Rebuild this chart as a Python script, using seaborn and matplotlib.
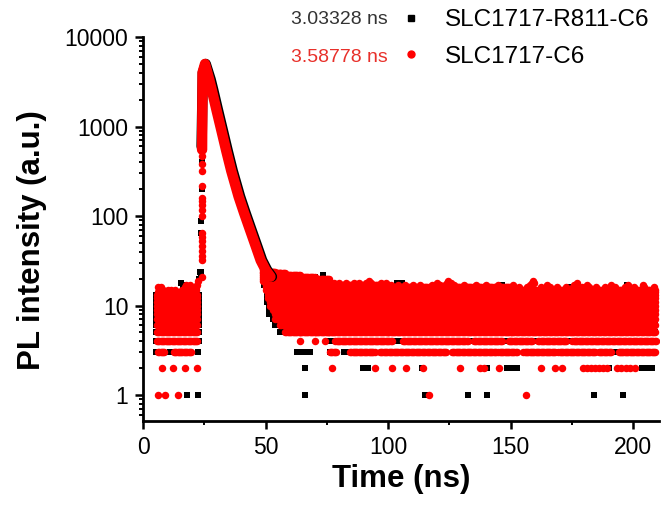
import numpy as np
import pandas as pd
import matplotlib
matplotlib.use("Agg")
import matplotlib.pyplot as plt
from matplotlib.lines import Line2D
from matplotlib.ticker import MultipleLocator, LogLocator, FixedLocator, FuncFormatter
import seaborn as sns

# ---------------- data ----------------
series_names = ["SLC1717-R811-C6", "SLC1717-C6"]
lifetimes = ["3.03328 ns", "3.58778 ns"]

# dense blocks of counts: (t_start, t_end, lowest count, highest count)
red_band = [
    (5.7, 22.3, 4, 13),
    (49.0, 50.0, 19, 25),
    (50.0, 51.0, 15, 25),
    (51.0, 52.0, 12, 24),
    (52.0, 53.0, 10, 24),
    (53.0, 54.0, 9, 24),
    (54.0, 56.0, 7, 23),
    (56.0, 58.0, 6, 23),
    (58.0, 64.0, 5, 22),
    (64.0, 70.0, 5, 21),
    (70.0, 76.0, 5, 20),
    (76.0, 100.0, 5, 17),
    (100.0, 150.0, 5, 16),
    (150.0, 209.3, 5, 15),
]
black_band = [
    (5.3, 23.0, 4, 13),
    (49.5, 50.5, 17, 25),
    (50.5, 51.5, 11, 24),
    (51.5, 53.0, 8, 24),
    (53.0, 54.0, 7, 23),
    (54.0, 56.0, 6, 23),
    (56.0, 62.0, 5, 22),
    (62.0, 70.0, 5, 21),
    (70.0, 76.0, 5, 19),
    (76.0, 209.3, 5, 15),
]
# rows of low counts: (t_start, t_end) runs
red_row4 = [(78.5, 101.5), (106.0, 132.5), (135.0, 146.8), (149.2, 158.8),
            (161.2, 172.8), (175.2, 209.3), (64.1, 64.1), (70.2, 70.2), (74.3, 74.3)]
red_row3 = [(6.2, 9.0), (12.6, 20.0), (76.3, 79.0), (84.5, 94.7), (96.7, 124.0),
            (126.0, 144.4), (145.0, 152.5), (155.2, 168.2), (169.5, 184.5),
            (185.9, 191.3), (194.0, 209.3)]
red_row2_t = [7.6, 12.4, 17.1, 21.9, 77.0, 94.7, 101.5, 107.3, 114.3, 129.4, 137.6,
              139.0, 145.4, 162.4, 168.2, 170.9, 179.6, 181.2, 182.8, 184.4, 186.0,
              187.6, 189.3, 193.3, 195.2, 197.0, 198.8, 200.8]
red_row1_t = [6.2, 9.0, 14.4, 116.7, 156.3]

black_row4 = [(75.5, 209.3)]
black_row3 = [(5.4, 5.6), (11.2, 11.2), (22.6, 22.6), (62.7, 68.2), (76.3, 78.5),
              (81.8, 84.5), (168.6, 169.0), (192.0, 194.0)]
black_row2_t = [66.0, 89.8, 90.8, 91.8, 114.0, 140.3, 148.4, 150.4, 152.5, 190.0,
                203.5, 205.5, 207.6]
black_row1_t = [17.8, 22.6, 66.2, 115.1, 132.5, 140.3, 183.8, 195.8]

# scattered high counts on top of the noise band
red_peak_t = [6.0, 7.5, 9.0, 10.5, 12.0, 13.5, 15.0, 16.5, 18.0, 19.5, 21.0,
              6.5, 8.0, 10.0, 11.5, 13.0, 16.0, 17.0, 18.5, 20.0, 21.5,
              6.0, 7.5, 17.0, 18.0, 21.5, 17.5, 19.0, 22.0, 22.5,
              78.0, 80.0, 83.0, 86.0, 88.0, 91.0, 93.0, 97.0, 99.0, 92.0,
              101.0, 104.0, 107.0, 110.0, 113.0, 118.0, 121.0, 123.0, 127.0, 131.0,
              136.0, 140.0, 145.0, 120.0, 124.0, 125.5, 124.5,
              150.5, 153.5, 156.5, 162.5, 166.0, 169.0, 172.5, 175.5, 179.0, 182.0,
              185.0, 188.5, 192.5, 196.5, 200.5, 204.5, 208.5,
              151.0, 158.0, 165.0, 176.0, 181.0, 191.0, 198.0, 204.0,
              158.5, 159.5, 177.0, 159.0]
red_peak_v = [14] * 11 + [15] * 10 + [16] * 5 + [17, 17, 17, 19] + \
             [18] * 9 + [19] + [17] * 13 + [18, 18, 18, 19] + \
             [16] * 17 + [17] * 8 + [18, 18, 18, 19]
black_peak_t = [15.5, 16.5, 22.8, 23.3, 73.6, 103.5, 105.5, 146.5, 174.0, 197.5]
black_peak_v = [18, 17, 20, 24, 22, 18, 18, 17, 16, 17]

# rising edge
red_rise_t = [23.9, 23.9, 23.9, 23.9, 23.9, 23.9, 23.9, 23.9, 24.0, 24.0, 24.0,
              24.0, 24.0, 24.1, 24.1, 24.1, 24.1]
red_rise_v = [21, 32, 36, 41, 46, 52, 58, 65, 99, 118, 132, 146, 160, 215, 315, 377, 466]
black_rise_t = [23.5, 23.6, 23.7, 23.8, 23.9, 24.0, 24.1]
black_rise_v = [21, 24, 65, 87, 200, 400, 600]

# decay curve centre line
red_decay_t = [24.1, 24.3, 25.3, 27.0, 28.0, 30.0, 32.0, 34.0, 36.0, 37.5, 39.0,
               41.2, 43.5, 46.0, 48.0, 50.0, 52.0]
red_decay_v = [550, 4000, 5000, 3350, 2600, 1520, 900, 530, 320, 230, 165, 109, 72,
               46, 32, 25, 21]
black_decay_t = [23.9, 24.4, 25.6, 27.6, 28.6, 30.6, 32.6, 34.6, 36.6, 38.1, 39.6,
                 41.8, 44.1, 46.6, 48.6, 50.6, 52.6]
black_decay_v = [600, 4000, 5000, 3350, 2600, 1520, 900, 530, 320, 230, 165, 109, 72,
                 46, 32, 25, 21]

x_ticks = [0, 50, 100, 150, 200]
y_ticks = [1, 10, 100, 1000, 10000]

STEP = 0.5  # ns between drawn channels


def expand_band(blocks):
    t, v = [], []
    for t0, t1, lo, hi in blocks:
        times = np.arange(t0, t1 + 1e-6, STEP)
        for lvl in range(lo, hi + 1):
            t.extend(times)
            v.extend([lvl] * len(times))
    return t, v


def expand_row(runs, lvl):
    t = []
    for t0, t1 in runs:
        t.extend(np.arange(t0, t1 + 1e-6, STEP))
    return t, [lvl] * len(t)


def build(band, row4, row3, row2_t, row1_t, peak_t, peak_v, rise_t, rise_v):
    parts = [expand_band(band), expand_row(row4, 4), expand_row(row3, 3),
             (row2_t, [2] * len(row2_t)), (row1_t, [1] * len(row1_t)),
             (peak_t, peak_v), (rise_t, rise_v)]
    t = np.concatenate([np.asarray(p[0], float) for p in parts])
    v = np.concatenate([np.asarray(p[1], float) for p in parts])
    return pd.DataFrame({"time": t, "counts": v})


black_df = build(black_band, black_row4, black_row3, black_row2_t, black_row1_t,
                 black_peak_t, black_peak_v, black_rise_t, black_rise_v)
red_df = build(red_band, red_row4, red_row3, red_row2_t, red_row1_t,
               red_peak_t, red_peak_v, red_rise_t, red_rise_v)
black_line = pd.DataFrame({"time": black_decay_t, "counts": black_decay_v})
red_line = pd.DataFrame({"time": red_decay_t, "counts": red_decay_v})

# ---------------- drawing ----------------
sns.set_theme(style="ticks")
plt.rcParams["font.family"] = ["Liberation Sans", "DejaVu Sans"]
plt.rcParams["text.color"] = "black"
plt.rcParams["axes.labelcolor"] = "black"
plt.rcParams["xtick.color"] = "black"
plt.rcParams["ytick.color"] = "black"

RED = "#ff0000"
fig = plt.figure(figsize=(6.62, 5.08), dpi=100)
ax = fig.add_axes([143 / 662, 87 / 508, 516 / 662, 384 / 508])

sns.scatterplot(data=black_df, x="time", y="counts", ax=ax, color="black",
                marker="s", s=24, linewidth=0, legend=False)
sns.lineplot(data=black_line, x="time", y="counts", ax=ax, color="black",
             linewidth=7.5, sort=False, estimator=None,
             solid_capstyle="round", solid_joinstyle="round")
sns.scatterplot(data=red_df, x="time", y="counts", ax=ax, color=RED,
                marker="o", s=29, linewidth=0, legend=False)
sns.lineplot(data=red_line, x="time", y="counts", ax=ax, color=RED,
             linewidth=7.5, sort=False, estimator=None,
             solid_capstyle="round", solid_joinstyle="round")

ax.set_yscale("log")
ax.set_xlim(0, 210.5)
ax.set_ylim(0.513, 10000)
ax.xaxis.set_major_locator(FixedLocator(x_ticks))
ax.xaxis.set_minor_locator(MultipleLocator(25))
ax.yaxis.set_major_locator(FixedLocator(y_ticks))
ax.yaxis.set_minor_locator(LogLocator(base=10, subs=np.arange(2, 10), numticks=20))
ax.yaxis.set_major_formatter(FuncFormatter(lambda v, p: f"{int(round(v))}"))
ax.yaxis.set_minor_formatter(FuncFormatter(lambda v, p: ""))

for s in ["top", "right"]:
    ax.spines[s].set_visible(False)
for s in ["left", "bottom"]:
    ax.spines[s].set_linewidth(2.0)
    ax.spines[s].set_color("black")
ax.tick_params(which="major", direction="out", length=5.5, width=1.8,
               labelsize=16.5, pad=5, color="black", labelcolor="black")
ax.tick_params(which="minor", direction="out", length=3.2, width=1.4, color="black")

ax.set_xlabel("Time (ns)", fontsize=22.5, fontweight="bold", color="black")
ax.set_ylabel("PL intensity (a.u.)", fontsize=22.5, fontweight="bold", color="black")
ax.xaxis.set_label_coords(0.5, -0.112)
ax.yaxis.set_label_coords(-0.186, 0.47)

handles = [Line2D([], [], marker="s", color="black", linestyle="none", markersize=4.8),
           Line2D([], [], marker="o", color=RED, linestyle="none", markersize=5.0)]
leg = ax.legend(handles, series_names, loc="upper left",
                bbox_to_anchor=(401.3 / 662, 1 - 9 / 508), bbox_transform=fig.transFigure,
                frameon=False, fontsize=17.5, handlelength=0.8, handletextpad=1.0,
                borderpad=0, borderaxespad=0, labelspacing=0.6)
for txt in leg.get_texts():
    txt.set_color("black")
fig.text(388 / 662, 1 - 19 / 508, lifetimes[0], ha="right", va="center",
         fontsize=14, color="#333333")
fig.text(388 / 662, 1 - 57 / 508, lifetimes[1], ha="right", va="center",
         fontsize=14, color="#e8302a")

fig.savefig("out.png", dpi=100)
